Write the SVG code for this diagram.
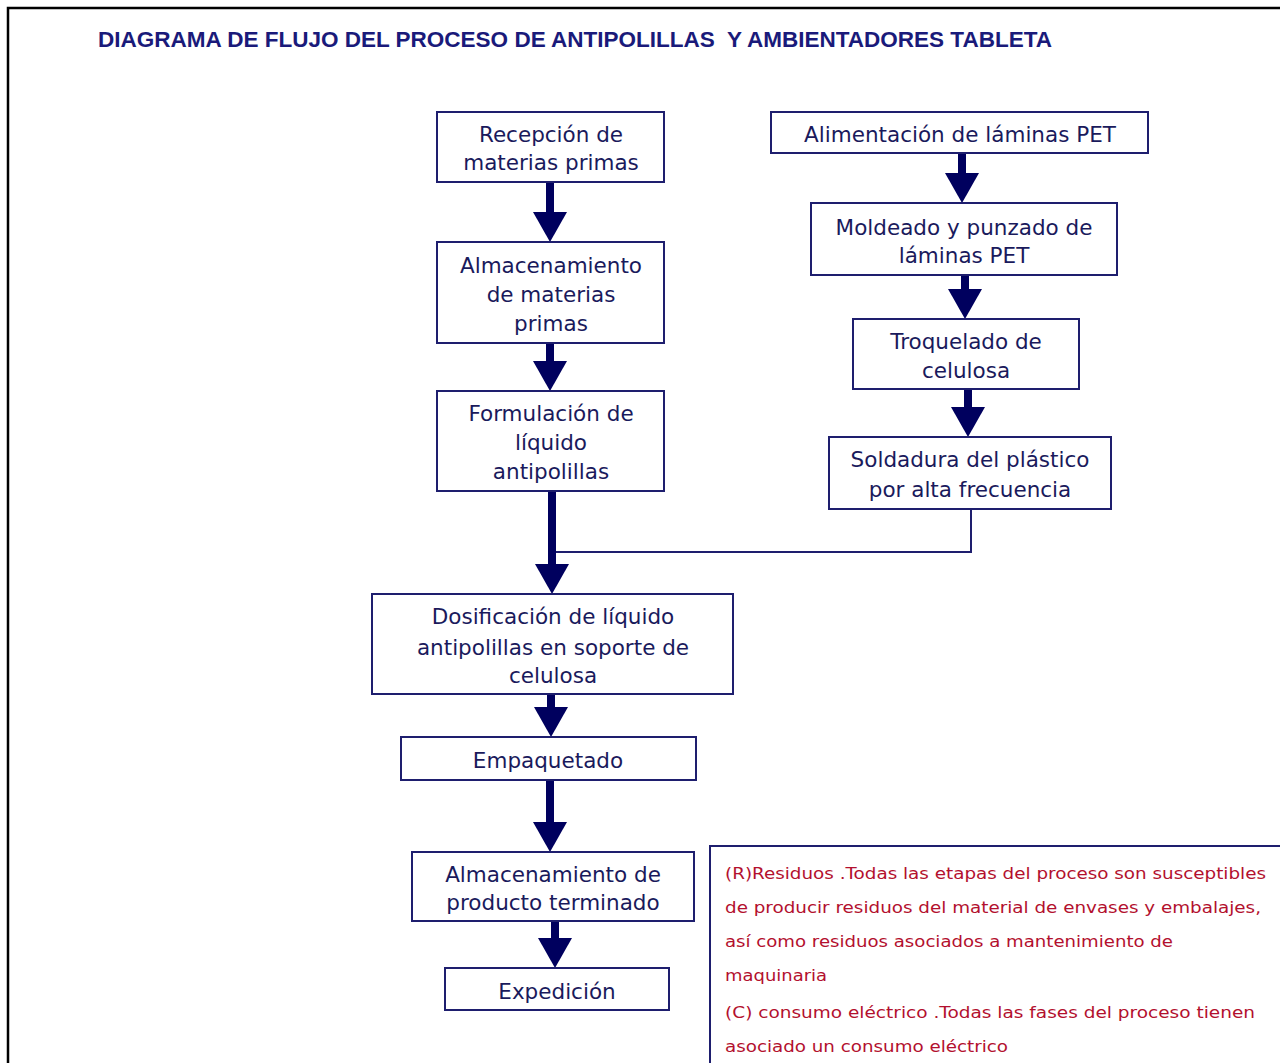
<svg xmlns="http://www.w3.org/2000/svg" width="1280" height="1063" viewBox="0 0 1280 1063">
<style>
.box{fill:#fff;stroke:#1e1e6e;stroke-width:2}
.t{font-family:"DejaVu Sans","Liberation Sans",sans-serif;font-size:21.5px;fill:#1a1a5c;text-anchor:middle}
.n{font-family:"DejaVu Sans","Liberation Sans",sans-serif;font-size:16px;fill:#b3102e}
.title{font-family:"Liberation Sans",sans-serif;font-weight:bold;font-size:22px;fill:#1a1a7a;white-space:pre}
.arr{stroke:#00005e;stroke-width:8;fill:none;marker-end:url(#ah)}
.thin{stroke:#1e1e6e;stroke-width:2;fill:none}
</style>
<defs>
<marker id="ah" viewBox="0 0 30 34" refX="20" refY="17" markerWidth="30" markerHeight="34" markerUnits="userSpaceOnUse" orient="auto">
<path d="M0,0 L30,17 L0,34 z" fill="#00005e"/>
</marker>
</defs>
<rect width="1280" height="1063" fill="#fff"/>
<path d="M8,1063 L8,8 L1280,8" fill="none" stroke="#000" stroke-width="2.5"/>
<text class="title" x="98" y="47" textLength="954" lengthAdjust="spacingAndGlyphs" xml:space="preserve">DIAGRAMA DE FLUJO DEL PROCESO DE ANTIPOLILLAS  Y AMBIENTADORES TABLETA</text>

<g id="connectors">
<path class="arr" d="M550,182 L550,232"/>
<path class="arr" d="M550,343 L550,381"/>
<path class="thin" d="M971,509 L971,552 L553,552"/>
<path class="arr" d="M552,491 L552,584"/>
<path class="arr" d="M551,694 L551,727"/>
<path class="arr" d="M550,780 L550,842"/>
<path class="arr" d="M555,921 L555,958"/>
<path class="arr" d="M962,153 L962,193"/>
<path class="arr" d="M965,275 L965,309"/>
<path class="arr" d="M968,389 L968,427"/>
</g>

<g id="recepcion">
<rect class="box" x="437" y="112" width="227" height="70"/>
<text class="t" x="551" y="142">Recepción de</text>
<text class="t" x="551" y="170">materias primas</text>
</g>
<g id="almacenamiento-mp">
<rect class="box" x="437" y="242" width="227" height="101"/>
<text class="t" x="551" y="273">Almacenamiento</text>
<text class="t" x="551" y="302">de materias</text>
<text class="t" x="551" y="331">primas</text>
</g>
<g id="formulacion">
<rect class="box" x="437" y="391" width="227" height="100"/>
<text class="t" x="551" y="421">Formulación de</text>
<text class="t" x="551" y="450">líquido</text>
<text class="t" x="551" y="479">antipolillas</text>
</g>
<g id="alimentacion">
<rect class="box" x="771" y="112" width="377" height="41"/>
<text class="t" x="960" y="142">Alimentación de láminas PET</text>
</g>
<g id="moldeado">
<rect class="box" x="811" y="203" width="306" height="72"/>
<text class="t" x="964" y="235">Moldeado y punzado de</text>
<text class="t" x="964" y="263">láminas PET</text>
</g>
<g id="troquelado">
<rect class="box" x="853" y="319" width="226" height="70"/>
<text class="t" x="966" y="349">Troquelado de</text>
<text class="t" x="966" y="378">celulosa</text>
</g>
<g id="soldadura">
<rect class="box" x="829" y="437" width="282" height="72"/>
<text class="t" x="970" y="467">Soldadura del plástico</text>
<text class="t" x="970" y="497">por alta frecuencia</text>
</g>
<g id="dosificacion">
<rect class="box" x="372" y="594" width="361" height="100"/>
<text class="t" x="553" y="624">Dosificación de líquido</text>
<text class="t" x="553" y="655">antipolillas en soporte de</text>
<text class="t" x="553" y="683">celulosa</text>
</g>
<g id="empaquetado">
<rect class="box" x="401" y="737" width="295" height="43"/>
<text class="t" x="548" y="768">Empaquetado</text>
</g>
<g id="almacenamiento-pt">
<rect class="box" x="412" y="852" width="282" height="69"/>
<text class="t" x="553" y="882">Almacenamiento de</text>
<text class="t" x="553" y="910">producto terminado</text>
</g>
<g id="expedicion">
<rect class="box" x="445" y="968" width="224" height="42"/>
<text class="t" x="557" y="999">Expedición</text>
</g>
<g id="nota">
<path class="thin" d="M710,1063 L710,846 L1280,846"/>
<text class="n" x="725" y="879" textLength="541" lengthAdjust="spacingAndGlyphs">(R)Residuos .Todas las etapas del proceso son susceptibles</text>
<text class="n" x="725" y="913" textLength="536" lengthAdjust="spacingAndGlyphs">de producir residuos del material de envases y embalajes,</text>
<text class="n" x="725" y="947" textLength="448" lengthAdjust="spacingAndGlyphs">así como residuos asociados a mantenimiento de</text>
<text class="n" x="725" y="981" textLength="102" lengthAdjust="spacingAndGlyphs">maquinaria</text>
<text class="n" x="725" y="1018" textLength="530" lengthAdjust="spacingAndGlyphs">(C) consumo eléctrico .Todas las fases del proceso tienen</text>
<text class="n" x="725" y="1052" textLength="283" lengthAdjust="spacingAndGlyphs">asociado un consumo eléctrico</text>
</g>
</svg>
